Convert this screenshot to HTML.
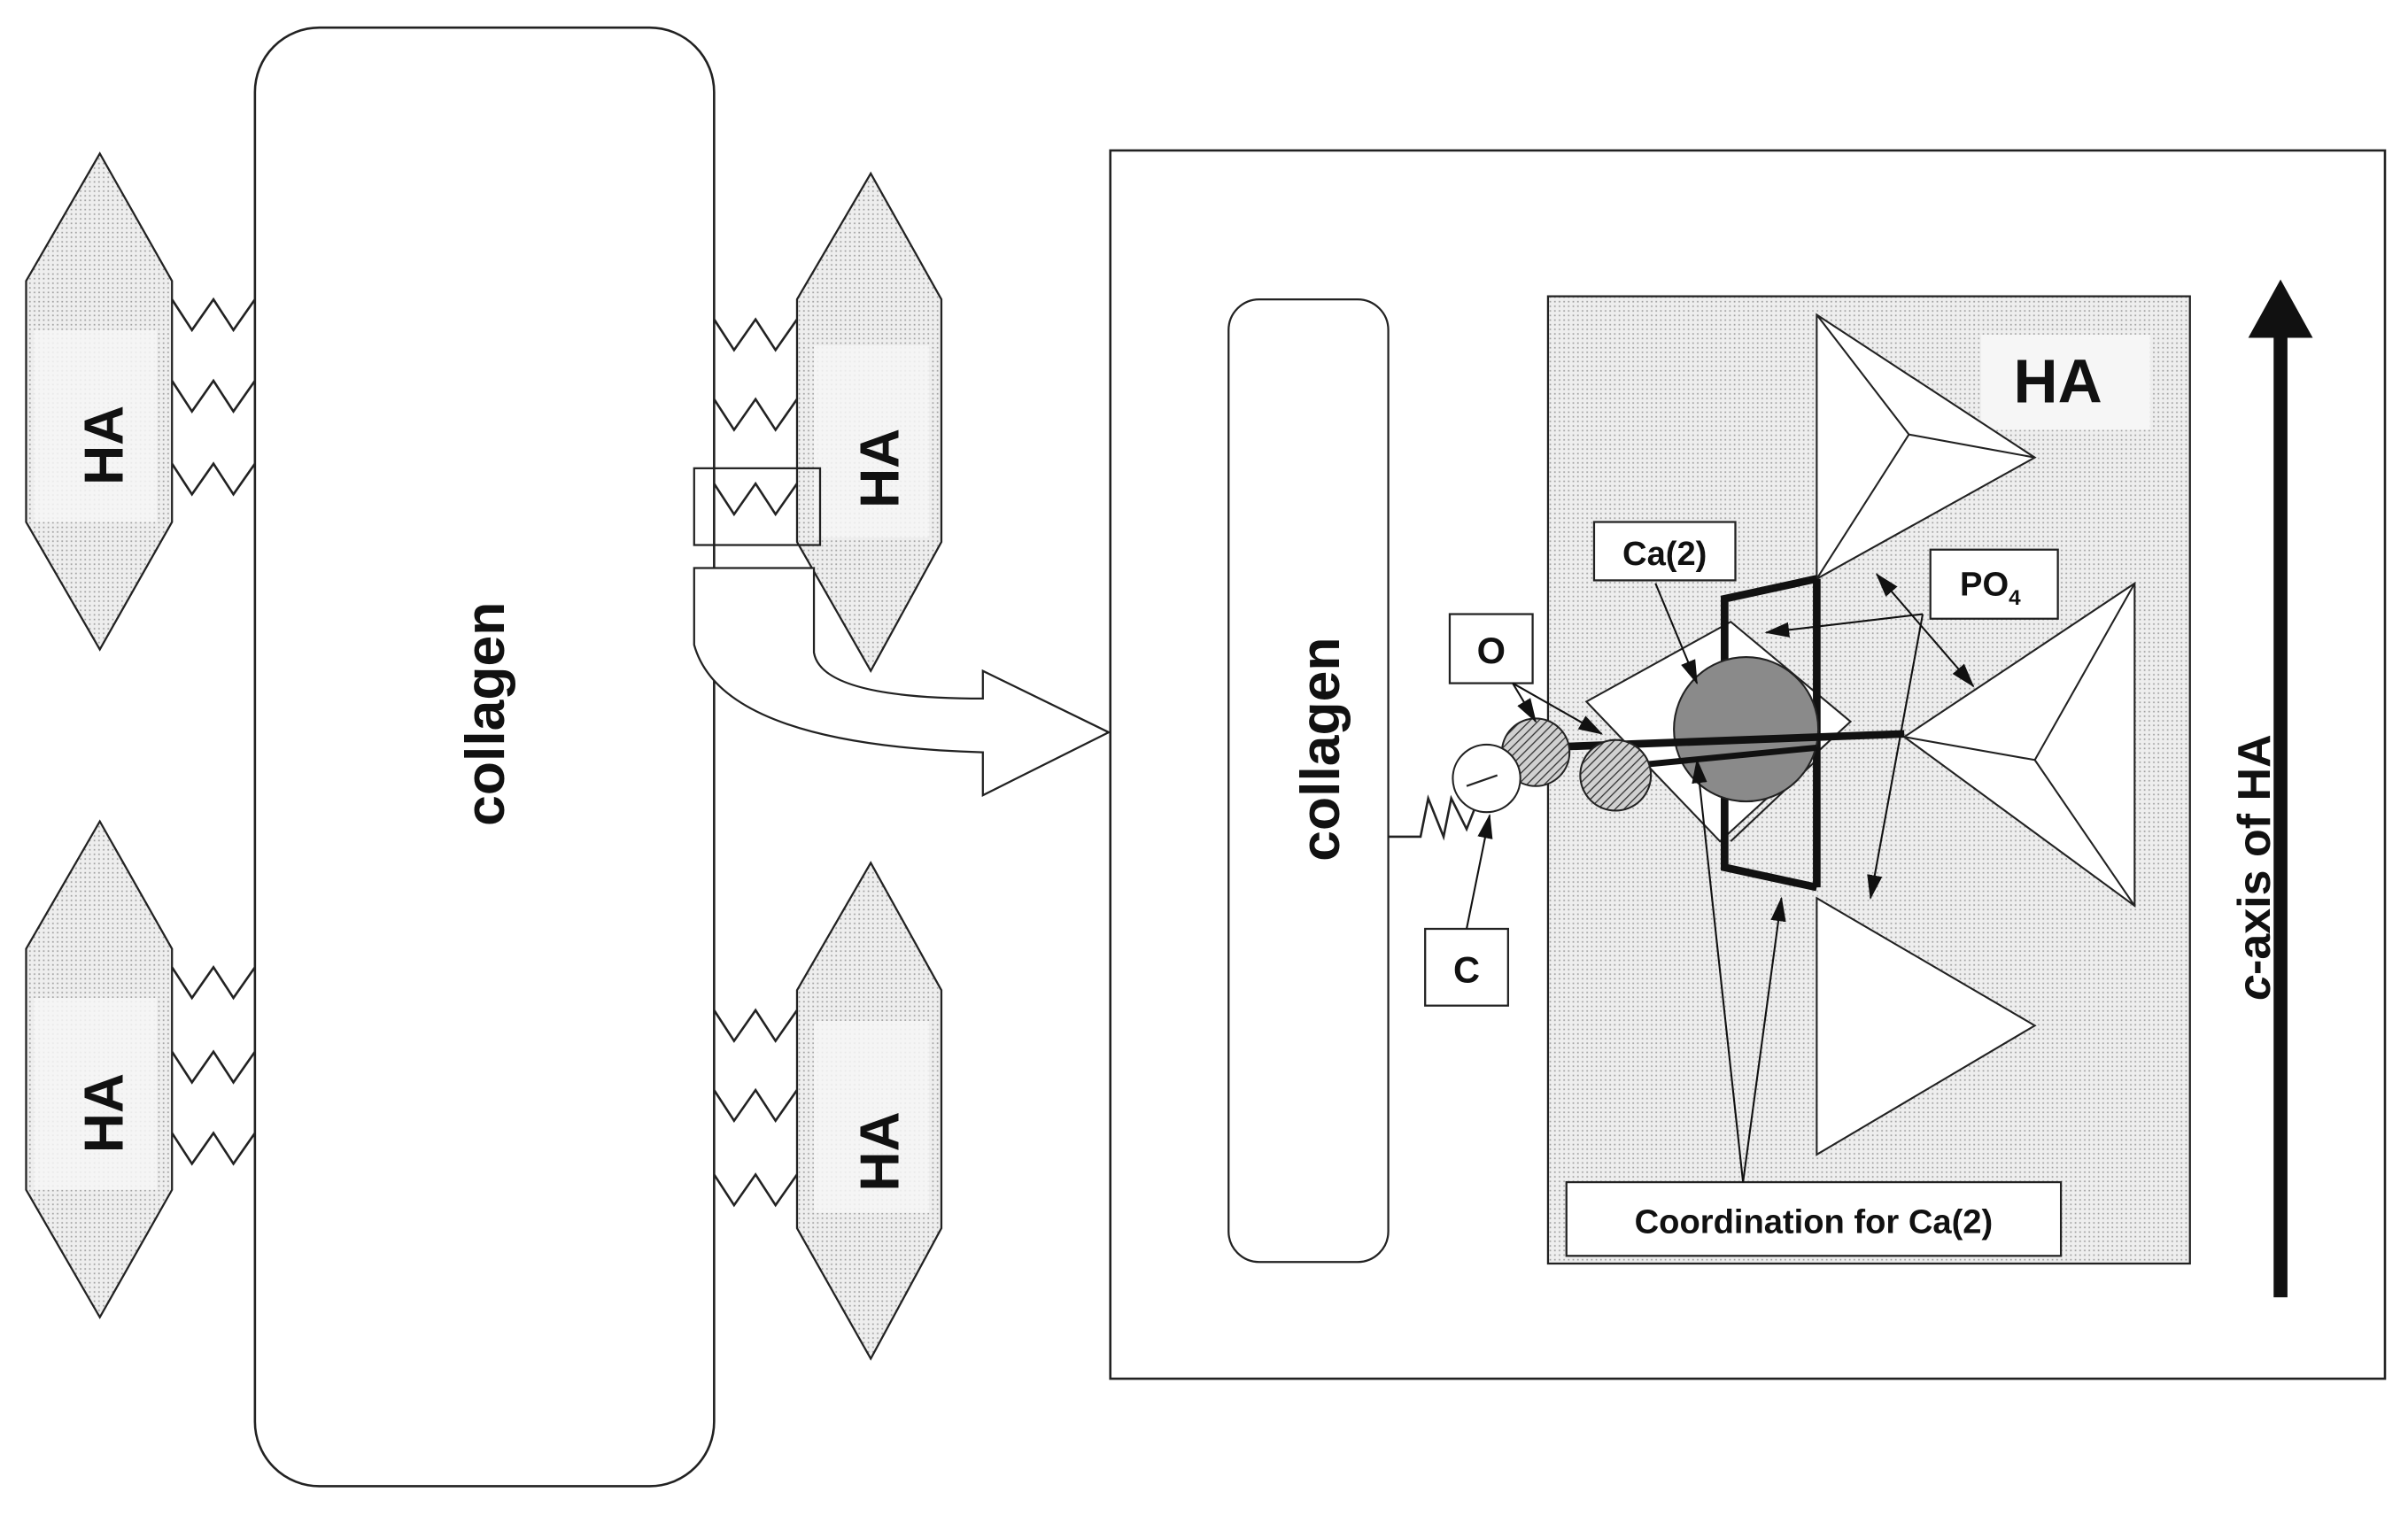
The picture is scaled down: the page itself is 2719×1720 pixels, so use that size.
<!DOCTYPE html>
<html><head><meta charset="utf-8"><style>
html,body{margin:0;padding:0;background:#fff;}
svg{display:block;}
text{font-family:"Liberation Sans",sans-serif;font-weight:bold;fill:#111;}
</style></head><body>
<svg width="2719" height="1720" viewBox="0 0 1568 992" preserveAspectRatio="none" xmlns="http://www.w3.org/2000/svg">
<defs>
<pattern id="dots" width="3" height="3" patternUnits="userSpaceOnUse">
<rect width="3" height="3" fill="#eeeeee"/>
<rect x="1" y="1" width="1" height="1" fill="#a0a0a0"/>
</pattern>
<pattern id="hatch" width="4" height="4" patternUnits="userSpaceOnUse" patternTransform="rotate(45)">
<rect width="4" height="4" fill="#d0d0d0"/>
<line x1="0" y1="0" x2="0" y2="4" stroke="#333" stroke-width="1.5"/>
</pattern>
<marker id="ah" markerWidth="16" markerHeight="12" refX="15" refY="6" orient="auto" markerUnits="userSpaceOnUse">
<path d="M0,1 L16,6 L0,11 Z" fill="#111"/>
</marker>
<marker id="as" markerWidth="16" markerHeight="12" refX="1" refY="6" orient="auto" markerUnits="userSpaceOnUse">
<path d="M16,1 L0,6 L16,11 Z" fill="#111"/>
</marker>
</defs>
<g stroke="#222" stroke-width="1.3" fill="none">
<g stroke-width="1.5">
<polyline points="112,195 125,215 139,195 152,215 166,195"/>
<polyline points="112,248 125,268 139,248 152,268 166,248"/>
<polyline points="112,302 125,322 139,302 152,322 166,302"/>
<polyline points="112,630 125,650 139,630 152,650 166,630"/>
<polyline points="112,685 125,705 139,685 152,705 166,685"/>
<polyline points="112,738 125,758 139,738 152,758 166,738"/>
<polyline points="465,208 478,228 492,208 505,228 519,208"/>
<polyline points="465,260 478,280 492,260 505,280 519,260"/>
<polyline points="465,315 478,335 492,315 505,335 519,315"/>
<polyline points="465,658 478,678 492,658 505,678 519,658"/>
<polyline points="465,710 478,730 492,710 505,730 519,710"/>
<polyline points="465,765 478,785 492,765 505,785 519,765"/>
</g>
<polygon points="65,100 112,183 112,340 65,423 17,340 17,183" fill="url(#dots)"/>
<polygon points="65,535 112,618 112,775 65,858 17,775 17,618" fill="url(#dots)"/>
<polygon points="567,113 613,195 613,353 567,437 519,353 519,195" fill="url(#dots)"/>
<polygon points="567,562 613,645 613,800 567,885 519,800 519,645" fill="url(#dots)"/>
</g>
<rect x="22" y="215" width="80" height="125" fill="#f6f6f6" opacity="0.85"/>
<rect x="22" y="650" width="80" height="125" fill="#f6f6f6" opacity="0.85"/>
<rect x="530" y="225" width="75" height="125" fill="#f6f6f6" opacity="0.85"/>
<rect x="530" y="665" width="75" height="125" fill="#f6f6f6" opacity="0.85"/>
<text transform="translate(80,290) rotate(-90)" font-size="36" text-anchor="middle">HA</text>
<text transform="translate(80,725) rotate(-90)" font-size="36" text-anchor="middle">HA</text>
<text transform="translate(585,305) rotate(-90)" font-size="36" text-anchor="middle">HA</text>
<text transform="translate(585,750) rotate(-90)" font-size="36" text-anchor="middle">HA</text>
<rect x="166" y="18" width="299" height="950" rx="42" fill="#fff" stroke="#222" stroke-width="1.5"/>
<text transform="translate(328,465) rotate(-90)" font-size="36" text-anchor="middle">collagen</text>
<rect x="452" y="305" width="82" height="50" fill="none" stroke="#222" stroke-width="1.3"/>
<path d="M452,370 L530,370 L530,425 Q535,455 640,455 L640,437 L722,477 L640,518 L640,490 Q470,485 452,420 Z" fill="#fff" stroke="#222" stroke-width="1.3"/>
<rect x="723" y="98" width="830" height="800" fill="#fff" stroke="#222" stroke-width="1.5"/>
<rect x="800" y="195" width="104" height="627" rx="20" fill="#fff" stroke="#222" stroke-width="1.3"/>
<text transform="translate(872,488) rotate(-90)" font-size="36" text-anchor="middle">collagen</text>
<rect x="1008" y="193" width="418" height="630" fill="url(#dots)" stroke="#222" stroke-width="1.3"/>
<rect x="1290" y="218" width="110" height="62" fill="#f6f6f6"/>
<text x="1340" y="262" font-size="40" text-anchor="middle">HA</text>
<g stroke="#222" stroke-width="1.2" fill="#fff">
<polygon points="1033,457 1127,405 1205,470 1120,548"/>
<polygon points="1183,205 1325,298 1183,377"/>
<polygon points="1390,380 1390,590 1240,480"/>
<polygon points="1183,585 1325,668 1183,752"/>
<polyline points="1183,205 1243,283 1325,298" fill="none"/>
<line x1="1243" y1="283" x2="1183" y2="377"/>
<polyline points="1390,380 1325,495 1390,590" fill="none"/>
<line x1="1325" y1="495" x2="1240" y2="480"/>
<line x1="1127" y1="548" x2="1183" y2="495"/>
</g>
<polyline points="1183,377 1123,390 1123,565 1183,578" fill="none" stroke="#111" stroke-width="5"/>
<line x1="1183" y1="377" x2="1183" y2="578" stroke="#111" stroke-width="5"/>
<circle cx="1137" cy="475" r="47" fill="#8a8a8a" stroke="#222" stroke-width="1.2"/>
<line x1="1000" y1="487" x2="1240" y2="478" stroke="#111" stroke-width="5"/>
<line x1="1050" y1="500" x2="1183" y2="487" stroke="#111" stroke-width="4"/>
<polyline points="904,545 925,545 930,520 940,545 945,520 955,540 968,507" fill="none" stroke="#222" stroke-width="1.5"/>
<circle cx="1000" cy="490" r="22" fill="url(#hatch)" stroke="#222" stroke-width="1.2"/>
<circle cx="1052" cy="505" r="23" fill="url(#hatch)" stroke="#222" stroke-width="1.2"/>
<circle cx="968" cy="507" r="22" fill="#fff" stroke="#222" stroke-width="1.2"/>
<line x1="955" y1="512" x2="975" y2="505" stroke="#222" stroke-width="1.3"/>
<g fill="#fff" stroke="#222" stroke-width="1.3">
<rect x="944" y="400" width="54" height="45"/>
<rect x="928" y="605" width="54" height="50"/>
<rect x="1038" y="340" width="92" height="38"/>
<rect x="1257" y="358" width="83" height="45"/>
<rect x="1020" y="770" width="322" height="48"/>
</g>
<text x="971" y="432" font-size="24" text-anchor="middle">O</text>
<text x="955" y="640" font-size="24" text-anchor="middle">C</text>
<text x="1084" y="368" font-size="22" text-anchor="middle">Ca(2)</text>
<text x="1296" y="388" font-size="22" text-anchor="middle">PO<tspan font-size="14" dy="6">4</tspan></text>
<text x="1181" y="803" font-size="22" text-anchor="middle">Coordination for Ca(2)</text>
<g stroke="#111" stroke-width="1.2" fill="none" marker-end="url(#ah)">
<line x1="1078" y1="380" x2="1105" y2="445"/>
<line x1="1252" y1="400" x2="1150" y2="412"/>
<line x1="1252" y1="400" x2="1218" y2="585"/>
<line x1="1222" y1="374" x2="1285" y2="447" marker-start="url(#as)"/>
<line x1="955" y1="605" x2="970" y2="531"/>
<line x1="985" y1="445" x2="1000" y2="470"/>
<line x1="985" y1="445" x2="1043" y2="478"/>
<line x1="1135" y1="770" x2="1105" y2="495"/>
<line x1="1135" y1="770" x2="1160" y2="585"/>
</g>
<line x1="1485" y1="845" x2="1485" y2="215" stroke="#111" stroke-width="9"/>
<polygon points="1485,182 1506,220 1464,220" fill="#111"/>
<text transform="translate(1478,565) rotate(-90)" font-size="30" text-anchor="middle"><tspan font-style="italic">c</tspan>-axis of HA</text>
</svg>
</body></html>
